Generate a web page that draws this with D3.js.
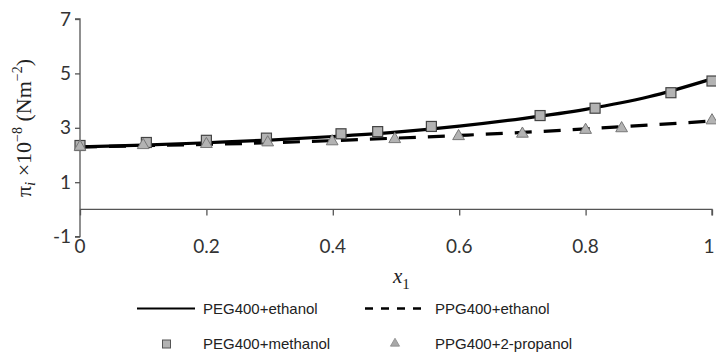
<!DOCTYPE html>
<html><head><meta charset="utf-8">
<script src="https://cdn.jsdelivr.net/npm/d3@7"></script>
<style>body{margin:0;background:#fff}svg{display:block}</style>
</head><body>
<svg id="c" width="716" height="352"></svg>
<script>
const xTicks = [0, 0.2, 0.4, 0.6, 0.8, 1];
const yTicks = [-1, 1, 3, 5, 7];
const lineX = [0, 0.1, 0.2, 0.3, 0.4, 0.5, 0.6, 0.7, 0.8, 0.9, 1.0];
const pegEthanol = [2.3, 2.36, 2.45, 2.55, 2.68, 2.84, 3.06, 3.34, 3.68, 4.14, 4.8];
const ppgEthanol = [2.3, 2.34, 2.39, 2.45, 2.53, 2.62, 2.72, 2.83, 2.96, 3.1, 3.25];
const pegMethanolX = [0, 0.105, 0.2, 0.295, 0.413, 0.471, 0.556, 0.728, 0.815, 0.935, 1.0];
const pegMethanolY = [2.35, 2.46, 2.54, 2.62, 2.78, 2.86, 3.05, 3.45, 3.72, 4.29, 4.72];
const ppgPropanolX = [0, 0.1, 0.2, 0.297, 0.399, 0.498, 0.599, 0.70, 0.8, 0.857, 1.0];
const ppgPropanolY = [2.3, 2.36, 2.4, 2.46, 2.5, 2.58, 2.69, 2.78, 2.92, 2.98, 3.27];
const legendLabels = ["PEG400+ethanol", "PPG400+ethanol", "PEG400+methanol", "PPG400+2-propanol"];

const svg = d3.select("#c");
const x = d3.scaleLinear().domain([0, 1]).range([80, 712]);
const y = d3.scaleLinear().domain([-1, 7]).range([236.6, 19]);
const axisColor = "#555";
const tickFont = "Lato, 'Open Sans', sans-serif";

// y axis
const yAx = svg.append("g").attr("transform", "translate(80,0)")
  .call(d3.axisLeft(y).tickValues(yTicks).tickSize(5).tickPadding(4).tickFormat(d => d < 0 ? "-" + Math.abs(d) : d));
yAx.select(".domain").attr("stroke", axisColor).attr("stroke-width", 1.3).attr("d", `M-5,${y(7)}H0V${y(-1)}H-5`);
yAx.selectAll(".tick line").attr("stroke", axisColor).attr("stroke-width", 1.3);
yAx.selectAll(".tick text").attr("font-family", tickFont).attr("font-size", 19).attr("fill", "#333");

// x axis at y=0
const xAx = svg.append("g").attr("transform", `translate(0,${y(0)})`)
  .call(d3.axisBottom(x).tickValues(xTicks).tickSize(6).tickFormat(d => ""));
xAx.select(".domain").attr("stroke", axisColor).attr("stroke-width", 1.3).attr("d", `M${x(0)},0H${x(1)}V6`);
xAx.selectAll(".tick line").attr("stroke", axisColor).attr("stroke-width", 1.3);
// x tick labels at bottom
svg.append("g").selectAll("text").data(xTicks).join("text")
  .attr("x", d => Math.min(x(d), 709)).attr("y", 253).attr("text-anchor", "middle")
  .attr("font-family", tickFont).attr("font-size", 19).attr("fill", "#333")
  .text(d => d3.format("")(d));

// lines
const line = d3.line().x(d => x(d[0])).y(d => y(d[1])).curve(d3.curveMonotoneX);
svg.append("path").datum(lineX.map((v, i) => [v, pegEthanol[i]]))
  .attr("d", line).attr("fill", "none").attr("stroke", "#000").attr("stroke-width", 3.2);
svg.append("path").datum(lineX.map((v, i) => [v, ppgEthanol[i]]))
  .attr("d", line).attr("fill", "none").attr("stroke", "#000").attr("stroke-width", 3.2)
  .attr("stroke-dasharray", "17,12");

// markers
const sq = 10;
svg.append("g").selectAll("rect").data(pegMethanolX.map((v, i) => [v, pegMethanolY[i]])).join("rect")
  .attr("x", d => x(d[0]) - sq / 2).attr("y", d => y(d[1]) - sq / 2)
  .attr("width", sq).attr("height", sq).attr("fill", "#b3b3b3").attr("stroke", "#444").attr("stroke-width", 1.2);
const tri = d3.symbol().type(d3.symbolTriangle).size(60);
svg.append("g").selectAll("path").data(ppgPropanolX.map((v, i) => [v, ppgPropanolY[i]])).join("path")
  .attr("transform", d => `translate(${x(d[0])},${y(d[1])})`).attr("d", tri)
  .attr("fill", "#b3b3b3").attr("stroke", "#777").attr("stroke-width", 1);

// axis titles
const yl = svg.append("text").attr("transform", "translate(31,128) rotate(-90)")
  .attr("text-anchor", "middle").attr("font-family", "'Liberation Serif', 'DejaVu Serif', serif")
  .attr("font-size", 22).attr("fill", "#222");
yl.append("tspan").text("π");
yl.append("tspan").attr("font-style", "italic").attr("font-size", 15).attr("dy", 4).text("i");
yl.append("tspan").attr("dy", -4).text(" ×10");
yl.append("tspan").attr("font-size", 14).attr("dy", -9).text("−8");
yl.append("tspan").attr("dy", 9).text(" (Nm");
yl.append("tspan").attr("font-size", 14).attr("dy", -9).text("−2");
yl.append("tspan").attr("dy", 9).text(")");

const xl = svg.append("text").attr("x", 393).attr("y", 283)
  .attr("font-family", "'Liberation Serif', 'DejaVu Serif', serif").attr("font-size", 21).attr("fill", "#222");
xl.append("tspan").attr("font-style", "italic").text("x");
xl.append("tspan").attr("font-size", 15).attr("dy", 6).text("1");

// legend
const lf = "'Liberation Sans', Arial, sans-serif";
const lg = svg.append("g").attr("font-family", lf).attr("font-size", 15).attr("fill", "#222");
lg.append("line").attr("x1", 137).attr("x2", 195).attr("y1", 308.5).attr("y2", 308.5).attr("stroke", "#000").attr("stroke-width", 2);
lg.append("line").attr("x1", 365).attr("x2", 421).attr("y1", 308.5).attr("y2", 308.5).attr("stroke", "#000").attr("stroke-width", 2.5).attr("stroke-dasharray", "8,8");
lg.append("rect").attr("x", 162.5).attr("y", 340).attr("width", 8).attr("height", 8).attr("fill", "#b3b3b3").attr("stroke", "#555").attr("stroke-width", 1);
lg.append("path").attr("transform", "translate(395,343.5)").attr("d", d3.symbol().type(d3.symbolTriangle).size(36)).attr("fill", "#a8a8a8").attr("stroke", "#888").attr("stroke-width", 0.8);
const lpos = [[203, 314], [435, 314], [203, 349], [435, 349]];
lg.selectAll("text").data(legendLabels).join("text")
  .attr("x", (d, i) => lpos[i][0]).attr("y", (d, i) => lpos[i][1]).text(d => d);
</script>
</body></html>
